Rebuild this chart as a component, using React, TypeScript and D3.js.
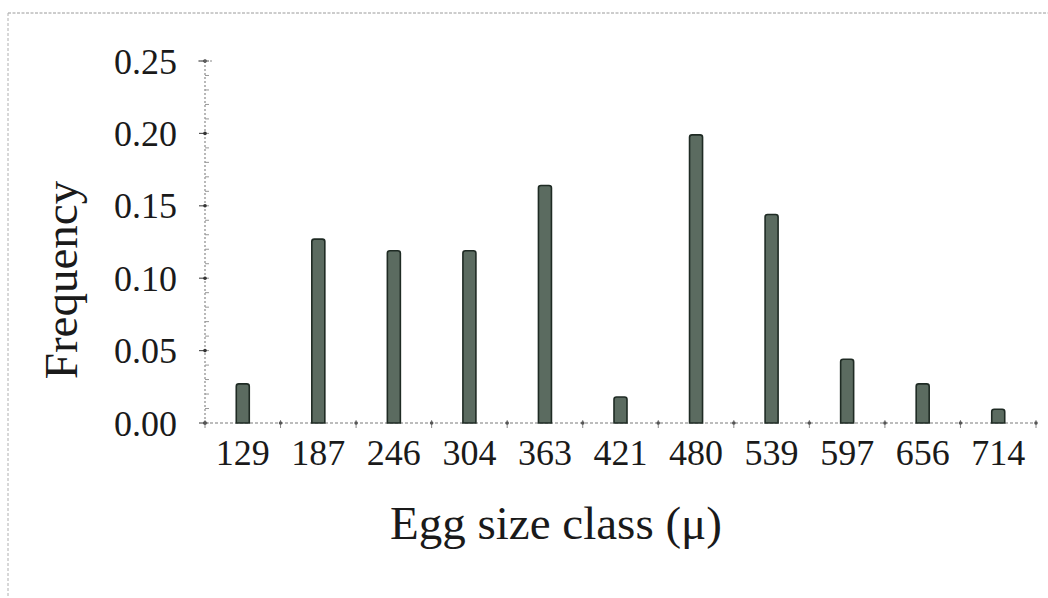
import React from 'react';
import * as d3 from 'd3';

// Egg size class midpoints (µ) and observed frequency
const sizeClasses: string[] = ['129', '187', '246', '304', '363', '421', '480', '539', '597', '656', '714'];
const frequencies: number[] = [0.027, 0.127, 0.119, 0.119, 0.164, 0.018, 0.199, 0.144, 0.044, 0.027, 0.0095];
const yTicks: number[] = [0, 0.05, 0.1, 0.15, 0.2, 0.25];

const width = 1048;
const height = 598;
const font = '"Liberation Serif", "Times New Roman", serif';

const App: React.FC = () => {
  const x = d3.scaleBand<string>()
    .domain(sizeClasses)
    .range([205, 1036])
    .padding(0);

  const y = d3.scaleLinear()
    .domain([0, 0.25])
    .range([423, 61]);

  const barW = 13;
  const minorTicks = d3.range(0, 0.2501, 0.01);
  const bandEdges = sizeClasses.map(c => x(c)!).concat([x.range()[1]]);

  // bar with slightly rounded top corners
  const barPath = (cx: number, top: number, bottom: number) => {
    const l = cx - barW / 2, r = cx + barW / 2, rad = 2.5;
    const p = d3.path();
    p.moveTo(l, bottom);
    p.lineTo(l, top + rad);
    p.quadraticCurveTo(l, top, l + rad, top);
    p.lineTo(r - rad, top);
    p.quadraticCurveTo(r, top, r, top + rad);
    p.lineTo(r, bottom);
    p.closePath();
    return p.toString();
  };

  return (
    <svg width={width} height={height} style={{ position: 'absolute', left: 0, top: 0, background: '#fff' }}>
      {/* scanned frame */}
      <line x1={8} y1={13} x2={width} y2={13} stroke="#9a9a9a" strokeWidth={1} strokeDasharray="3,1.5" />
      <line x1={8} y1={13} x2={8} y2={height} stroke="#b0b0b0" strokeWidth={1} strokeDasharray="3,2" />

      {/* y axis */}
      <g>
        <line x1={205} y1={y(0)} x2={205} y2={y(0.25)} stroke="#8a8a8a" strokeWidth={1.2} strokeDasharray="2,2" />
        {minorTicks.map((t, i) => (
          <line key={i} x1={205} x2={209} y1={y(t)} y2={y(t)} stroke="#999" strokeWidth={1} />
        ))}
        {yTicks.map(t => (
          <g key={t}>
            <line x1={199} x2={205} y1={y(t)} y2={y(t)} stroke="#555" strokeWidth={1.2} />
            <circle cx={205} cy={y(t)} r={1.8} fill="#333" />
            <text x={177} y={y(t)} dy="0.35em" textAnchor="end" fontFamily={font} fontSize={36} fill="#1a1a1a">
              {t.toFixed(2)}
            </text>
          </g>
        ))}
        <line x1={198} x2={213} y1={y(0.25)} y2={y(0.25)} stroke="#888" strokeWidth={1} strokeDasharray="2,1" />
      </g>

      {/* x axis */}
      <g>
        <line x1={x.range()[0]} y1={y(0)} x2={x.range()[1]} y2={y(0)} stroke="#7a7a7a" strokeWidth={1.2} strokeDasharray="3,2" />
        {bandEdges.map((e, i) => (
          <g key={i}>
            <line x1={e} x2={e} y1={y(0) - 3} y2={y(0) + 5} stroke="#888" strokeWidth={1} />
            <circle cx={e} cy={y(0)} r={1.8} fill="#555" />
          </g>
        ))}
        {sizeClasses.map(c => (
          <text key={c} x={x(c)! + x.bandwidth() / 2} y={465} textAnchor="middle" fontFamily={font} fontSize={36} fill="#1a1a1a">
            {c}
          </text>
        ))}
      </g>

      {/* bars */}
      <g>
        {sizeClasses.map((c, i) => (
          <path
            key={c}
            d={barPath(x(c)! + x.bandwidth() / 2, y(frequencies[i]), y(0))}
            fill="#5b6b60"
            stroke="#1f2b24"
            strokeWidth={1.6}
          />
        ))}
      </g>

      {/* axis titles */}
      <text x={556} y={539} textAnchor="middle" fontFamily={font} fontSize={47} fill="#1a1a1a">
        Egg size class (μ)
      </text>
      <text transform="translate(77,280) rotate(-90)" textAnchor="middle" fontFamily={font} fontSize={47} fill="#1a1a1a">
        Frequency
      </text>
    </svg>
  );
};

export default App;
